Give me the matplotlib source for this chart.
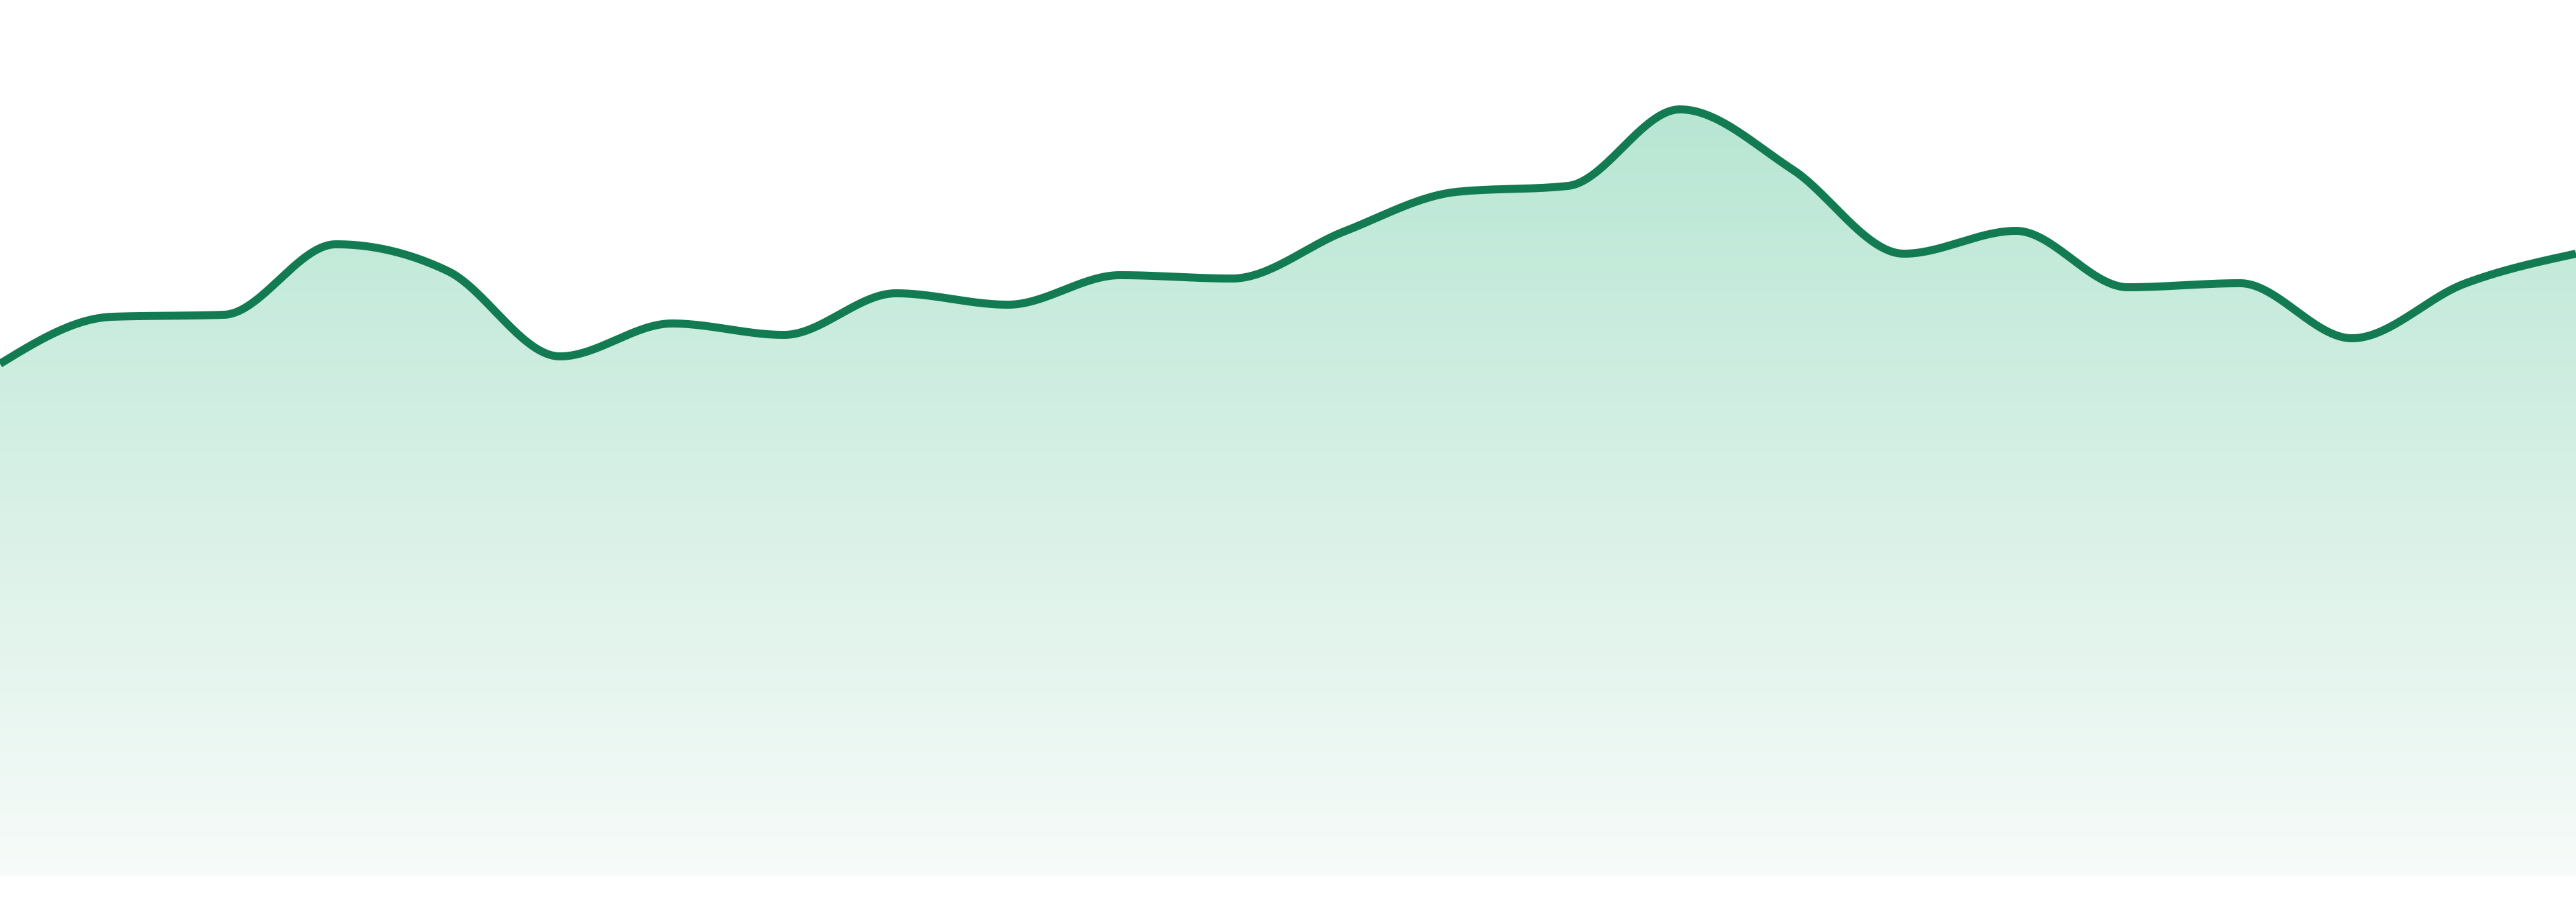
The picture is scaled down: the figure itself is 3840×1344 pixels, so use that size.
import matplotlib
matplotlib.use('Agg')
import matplotlib.pyplot as plt
import numpy as np

# values (pixel heights above the baseline)
points = list(range(24))
values = [763, 833, 836, 941, 901, 774, 823, 806, 868, 851, 895, 890,
          960, 1019, 1028, 1142, 1053, 927, 961, 877, 883, 801, 882, 927]

line_color = '#137b51'
top_rgb = (184, 230, 211)
bottom_rgb = (247, 251, 249)


def monotone_slopes(x, y):
    # same rules as d3 curveMonotoneX
    x = np.asarray(x, float)
    y = np.asarray(y, float)
    n = len(x)
    h = np.diff(x)
    s = np.diff(y) / h
    t = np.zeros(n)
    for i in range(1, n - 1):
        h0, h1 = h[i - 1], h[i]
        s0, s1 = s[i - 1], s[i]
        p = (s0 * h1 + s1 * h0) / (h0 + h1)
        t[i] = (np.sign(s0) + np.sign(s1)) * min(abs(s0), abs(s1), 0.5 * abs(p))
    t[0] = (3 * s[0] - t[1]) / 2
    t[-1] = (3 * s[-1] - t[-2]) / 2
    return t


def monotone_curve(x, y, steps=60):
    x = np.asarray(x, float)
    y = np.asarray(y, float)
    t = monotone_slopes(x, y)
    xs, ys = [], []
    for i in range(len(x) - 1):
        dx = x[i + 1] - x[i]
        u = np.linspace(0, 1, steps, endpoint=False)
        h00 = 2 * u**3 - 3 * u**2 + 1
        h10 = u**3 - 2 * u**2 + u
        h01 = -2 * u**3 + 3 * u**2
        h11 = u**3 - u**2
        xs.append(x[i] + u * dx)
        ys.append(h00 * y[i] + h10 * dx * t[i] + h01 * y[i + 1] + h11 * dx * t[i + 1])
    xs.append([x[-1]])
    ys.append([y[-1]])
    return np.concatenate(xs), np.concatenate(ys)


fig = plt.figure(figsize=(38.4, 13.44), dpi=100)
ax = fig.add_axes([0, 0, 1, 1])
ax.set_xlim(0, len(points) - 1)
ax.set_ylim(-39, 1305)
ax.axis('off')

cx, cy = monotone_curve(points, values)

# gradient fill under the curve
n = 256
frac = np.linspace(0, 1, n)[:, None]
grad = np.array(top_rgb)[None, :] * (1 - frac) + np.array(bottom_rgb)[None, :] * frac
grad = (grad / 255.0)[:, None, :]
top = max(values)
img = ax.imshow(grad, extent=[0, len(points) - 1, 0, top], aspect='auto',
                origin='upper', zorder=1)
poly = ax.fill_between(cx, cy, 0, color='none', lw=0)
verts = np.vstack([np.column_stack([cx, cy]), [[cx[-1], 0], [cx[0], 0]]])
clip = plt.Polygon(verts, closed=True, transform=ax.transData, facecolor='none', edgecolor='none')
ax.add_patch(clip)
img.set_clip_path(clip)

ax.plot(cx, cy, color=line_color, lw=8.6, solid_capstyle='butt', zorder=3)

fig.savefig('out.png', dpi=100, facecolor='white')
